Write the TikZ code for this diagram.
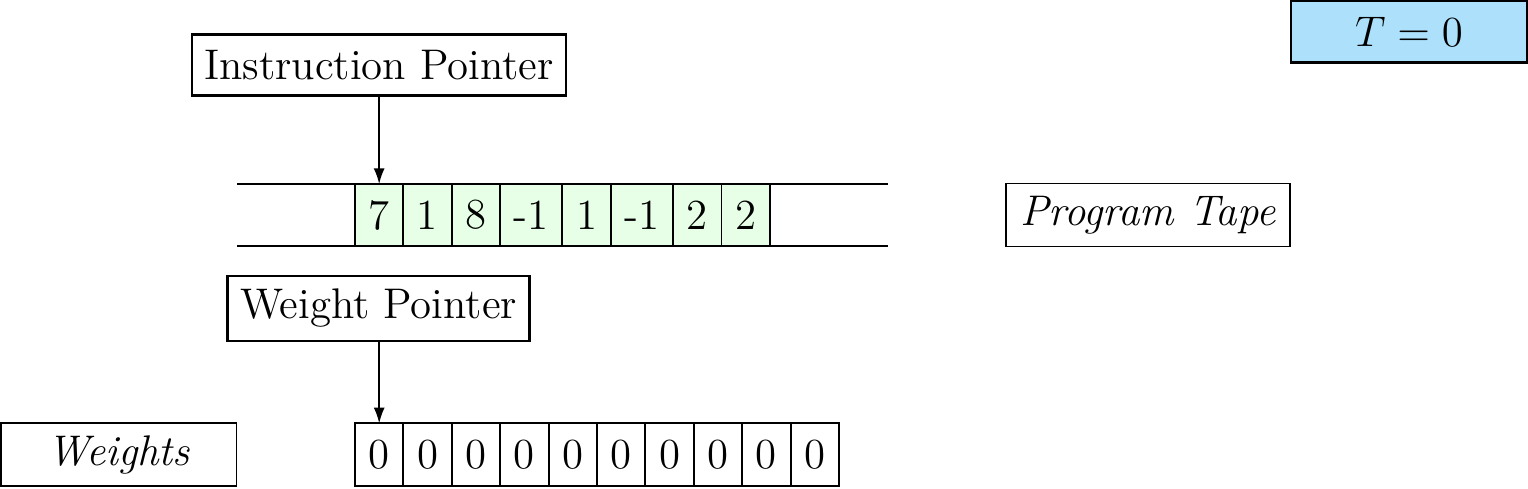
\documentclass[tikz,border=0pt]{standalone}
\usetikzlibrary{arrows.meta}
\definecolor{tapegreen}{RGB}{230,255,230}
\definecolor{tblue}{RGB}{173,224,250}
\def\u{0.28pt}
\begin{document}
\begin{tikzpicture}[x=0.28pt,y=-0.28pt, font=\large,
  lbl/.style={draw, line width=0.4pt, inner sep=0pt, anchor=center},
  ptr/.style={draw, line width=0.8pt, inner sep=0pt, anchor=center},
  tbox/.style={draw, line width=0.6pt, inner sep=0pt, fill=tblue},
  tcell/.style={draw, line width=0.55pt, inner sep=0pt, outer sep=0pt, fill=tapegreen,
                minimum width=48.3*\u, minimum height=62*\u},
  tcellw/.style={tcell, minimum width=62.5*\u},
  wcell/.style={draw, line width=0.55pt, inner sep=0pt, outer sep=0pt,
                minimum width=48.4*\u, minimum height=62.7*\u},
  arr/.style={line width=0.45pt, -{Latex[length=4.4pt,width=3.1pt]}},
  tapeline/.style={line width=0.45pt}]
\useasboundingbox (0,0) rectangle (1528,488);

% labels
\node[ptr, minimum width=374*\u, minimum height=61*\u] (ip) at (379,65) {Instruction Pointer};
\node[ptr, minimum width=302*\u, minimum height=65*\u] (wp) at (378.5,308.5) {Weight Pointer};
\node[lbl, minimum width=284*\u, minimum height=63*\u] (pt) at (1148,215) {\itshape Program Tape};
\node[lbl, minimum width=235.5*\u, minimum height=63*\u] (wl) at (118.7,454.6) {\itshape Weights};
\node[tbox, minimum width=236*\u, minimum height=61.5*\u] (tt) at (1409,31.8) {$T=0$};

% program tape cells
\node[tcell] (t1) at (379.15,215) {7};
\node[tcell, anchor=west] (t2) at (t1.east) {1};
\node[tcell, anchor=west] (t3) at (t2.east) {8};
\node[tcellw, anchor=west] (t4) at (t3.east) {-1};
\node[tcell, anchor=west] (t5) at (t4.east) {1};
\node[tcellw, anchor=west] (t6) at (t5.east) {-1};
\node[tcell, anchor=west] (t7) at (t6.east) {2};
\node[tcell, anchor=west] (t8) at (t7.east) {2};

% tape border lines
\coordinate (tlt) at (237,184);
\coordinate (trt) at (888,184);
\coordinate (tlb) at (237,246);
\coordinate (trb) at (888,246);
\draw[tapeline] (tlt) -- (trt);
\draw[tapeline] (tlb) -- (trb);

% weight cells
\node[wcell] (w1) at (379.2,454.6) {0};
\foreach \i [remember=\i as \prev (initially 1)] in {2,...,10}{
  \node[wcell, anchor=west] (w\i) at (w\prev.east) {0};
}

% pointers
\draw[arr] (ip.south -| t1.north) -- (t1.north);
\draw[arr] (wp.south -| w1.north) -- (w1.north);
\end{tikzpicture}
\end{document}
